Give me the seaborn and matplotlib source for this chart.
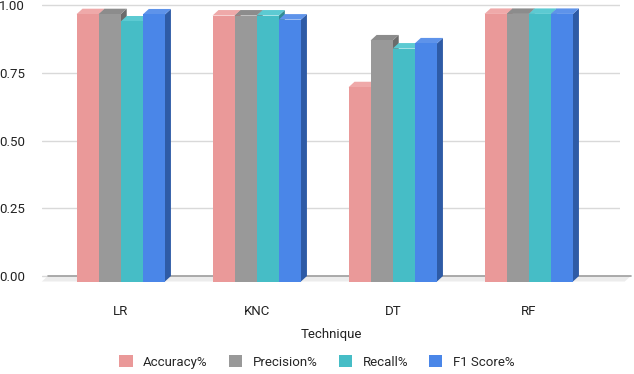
import numpy as np
import pandas as pd
import matplotlib.pyplot as plt
from matplotlib.patches import Polygon
import seaborn as sns

techniques = ['LR', 'KNC', 'DT', 'RF']
metrics = ['Accuracy%', 'Precision%', 'Recall%', 'F1 Score%']
accuracy = [0.988, 0.983, 0.718, 0.989]
precision = [0.988, 0.983, 0.891, 0.989]
recall = [0.961, 0.983, 0.861, 0.989]
f1_score = [0.987, 0.968, 0.880, 0.989]

front_cols = ['#ea9999', '#999999', '#46bdc6', '#4a86e8']
side_cols = ['#b87474', '#6b6b6b', '#2f8c93', '#2e5ba6']
top_cols = ['#efa9a9', '#8c8c8c', '#5ccad2', '#5e93ea']

df = pd.DataFrame({
    'Technique': techniques * 4,
    'metric': np.repeat(metrics, 4),
    'value': accuracy + precision + recall + f1_score,
})

sns.set_style('white')
plt.rcParams['font.family'] = ['Roboto', 'DejaVu Sans']

fig = plt.figure(figsize=(6.34, 3.74), dpi=100)
ax = fig.add_axes([0.066, 0.2439, 0.9117, 0.756])

sns.barplot(data=df, x='Technique', y='value', hue='metric', hue_order=metrics,
            palette=front_cols, width=0.65, saturation=1, ax=ax, legend=False,
            linewidth=0, errorbar=None)

ax.set_xlim(-0.58, 3.67)
ax.set_ylim(-0.025, 1.02)

# fake 3d: shift fronts down, add side + top faces
dx = 6 / 136
dy = 5.5 / 270.8
for k, cont in enumerate(ax.containers):
    for p in cont.patches:
        x0, w, h = p.get_x(), p.get_width(), p.get_height()
        x1 = x0 + w
        p.set_y(-dy)
        p.set_zorder(3 + k * 0.1 + 0.05)
        side = Polygon([(x1, -dy), (x1 + dx, 0), (x1 + dx, h), (x1, h - dy)],
                       closed=True, fc=side_cols[k], lw=0, zorder=3 + k * 0.1)
        top = Polygon([(x0, h - dy), (x0 + dx, h), (x1 + dx, h), (x1, h - dy)],
                      closed=True, fc=top_cols[k], lw=0, zorder=3 + k * 0.1)
        ax.add_patch(side)
        ax.add_patch(top)

# floor
floor = Polygon([(-0.58, -dy), (-0.58 + dx, 0), (3.75, 0), (3.75 - dx, -dy)],
                closed=True, fc='#ececec', lw=0, zorder=1, clip_on=False)
ax.add_patch(floor)
ax.plot([-0.58 + dx, 3.75], [0, 0], color='#9e9e9e', lw=1.2, zorder=1.5, clip_on=False)

ax.set_yticks([0, 0.25, 0.5, 0.75, 1.0])
ax.set_yticklabels(['0.00', '0.25', '0.50', '0.75', '1.00'])
ax.yaxis.grid(True, color='#d9d9d9', lw=1)
ax.set_axisbelow(True)
ax.tick_params(axis='y', length=0, pad=12, labelsize=9.5, labelcolor='#222222')
ax.tick_params(axis='x', length=0, pad=16, labelsize=9.5, labelcolor='#222222')
for s in ax.spines.values():
    s.set_visible(False)
ax.set_ylabel('')
ax.set_xlabel('Technique', fontsize=9.5, color='#222222', labelpad=7)

handles = [plt.Rectangle((0, 0), 1, 1, fc=c, lw=0) for c in front_cols]
fig.legend(handles, metrics, loc='center', bbox_to_anchor=(0.5, 1 - 362 / 374),
           ncol=4, frameon=False, fontsize=9.5, handlelength=1.0, handleheight=1.0,
           columnspacing=1.6, handletextpad=0.8)

fig.savefig('out.png', dpi=100)
